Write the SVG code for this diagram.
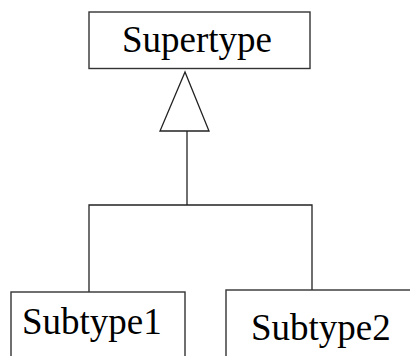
<svg xmlns="http://www.w3.org/2000/svg" width="410" height="356" viewBox="0 0 410 356">
<style>
.box{fill:#fff;stroke:#333;stroke-width:1.4}
.lbl{font-family:"Liberation Serif","Times New Roman",serif;font-size:37px;fill:#000}
.conn{fill:none;stroke:#222;stroke-width:1.3}
</style>
<rect width="410" height="356" fill="#fff"/>
<g id="connectors">
<polygon class="conn" points="185,72 160,131 209,131"/>
<polyline class="conn" points="187,131 187,205"/>
<polyline class="conn" points="89,292 89,205 312,205 312,290"/>
</g>
<g id="supertype">
<rect class="box" x="89" y="12" width="221" height="56.5"/>
<text class="lbl" x="122" y="52">Supertype</text>
</g>
<g id="subtype1">
<rect class="box" x="11" y="292" width="174" height="80"/>
<text class="lbl" x="22" y="334">Subtype1</text>
</g>
<g id="subtype2">
<rect class="box" x="226" y="290" width="200" height="80"/>
<text class="lbl" x="251" y="340">Subtype2</text>
</g>
</svg>
